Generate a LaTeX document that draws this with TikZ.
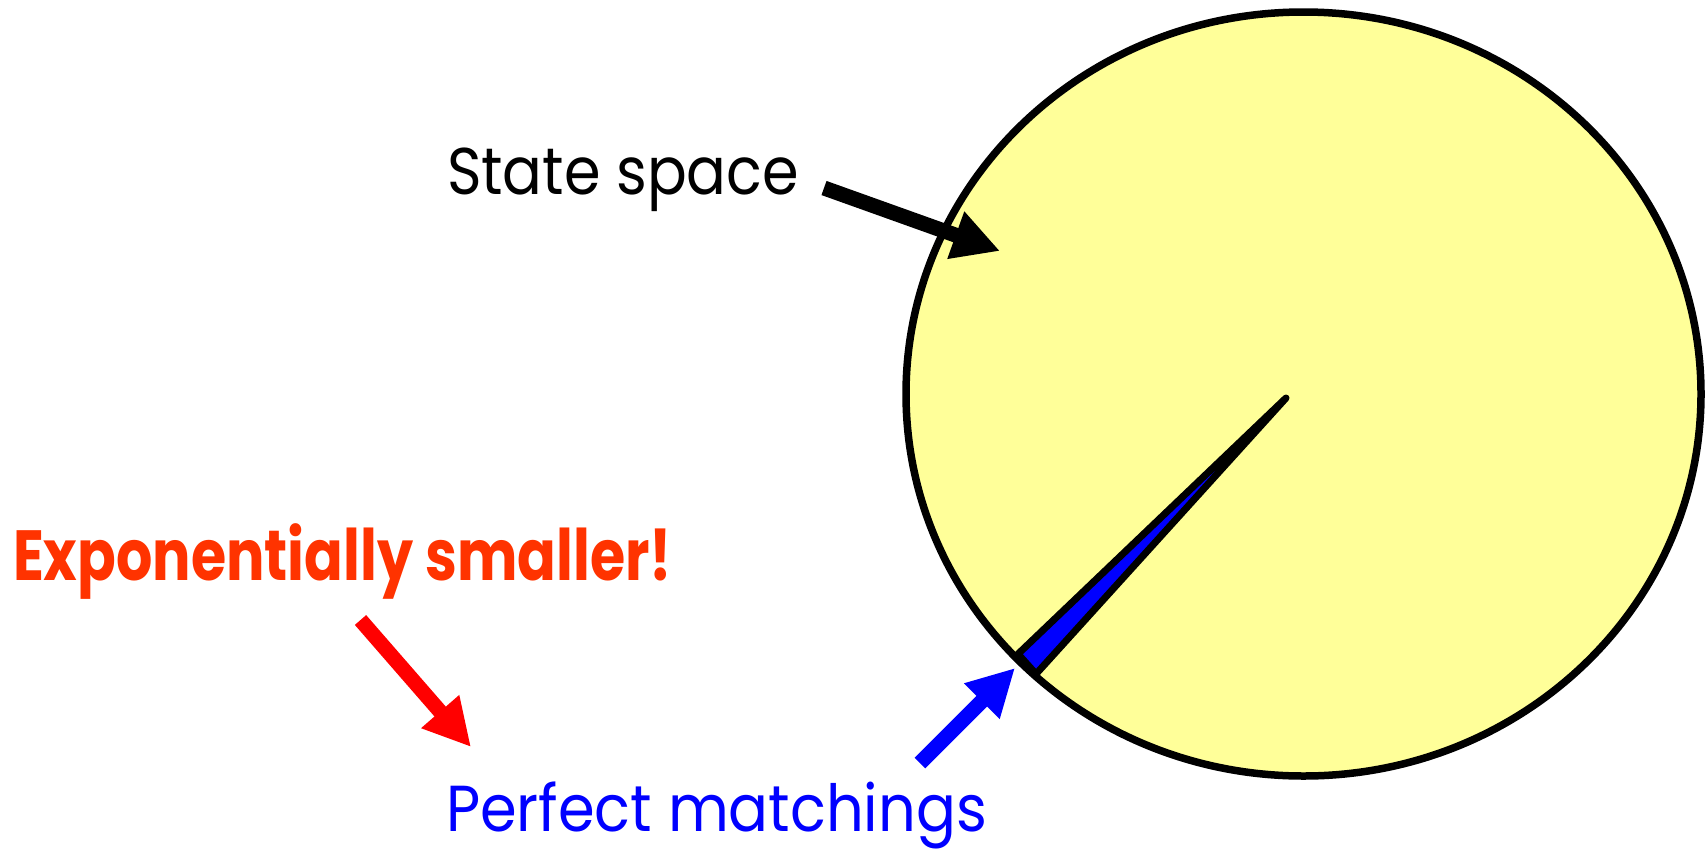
\documentclass[tikz,border=0pt]{standalone}
\usepackage{fontspec}
\setmainfont{Poppins}
\usetikzlibrary{arrows.meta}
\definecolor{ssyellow}{RGB}{255,255,153}
\definecolor{exporange}{RGB}{255,51,0}
\definecolor{pmblue}{RGB}{0,0,255}
\definecolor{arrred}{RGB}{255,0,0}
\begin{document}
\begin{tikzpicture}[x=1pt,y=-1pt,
  fatarrow/.style={line width=15pt, -{Triangle[length=47pt,width=47pt]}},
  lbl/.style={anchor=base west, inner sep=0pt, outer sep=0pt}]
\useasboundingbox (0,0) rectangle (1707,852);
% state space
\draw[line width=7.5pt, fill=ssyellow] (1303.5,394) ellipse [x radius=397.5pt, y radius=382pt];
% wedge of perfect matchings
\coordinate (apex) at (1286,398);
\coordinate (wl) at (1018,654);
\coordinate (wr) at (1036,674);
\filldraw[fill=pmblue, draw=black, line width=7pt, line join=round] (apex) -- (wl) -- (wr) -- cycle;
% labels
\node[lbl] (state) at (447,194) {\resizebox{352pt}{\height}{\fontsize{66}{70}\selectfont State space}};
\node[lbl, text=exporange] (expo) at (13,580) {\resizebox{659pt}{\height}{\fontsize{71}{75}\selectfont\bfseries Exponentially smaller!}};
\node[lbl, text=pmblue] (pm) at (446,831) {\resizebox{541pt}{\height}{\fontsize{65}{70}\selectfont Perfect matchings}};
% arrows
\coordinate (ssTail) at (824,188);
\coordinate (ssTip) at (1000,251);
\draw[fatarrow, black] (ssTail) -- (ssTip);
\coordinate (exTail) at (360.5,620);
\coordinate (exTip) at (471,747);
\draw[fatarrow, arrred] (exTail) -- (exTip);
\coordinate (pmTail) at (920,763);
\coordinate (pmTip) at (1015,668);
\draw[fatarrow, pmblue] (pmTail) -- (pmTip);
\end{tikzpicture}
\end{document}
